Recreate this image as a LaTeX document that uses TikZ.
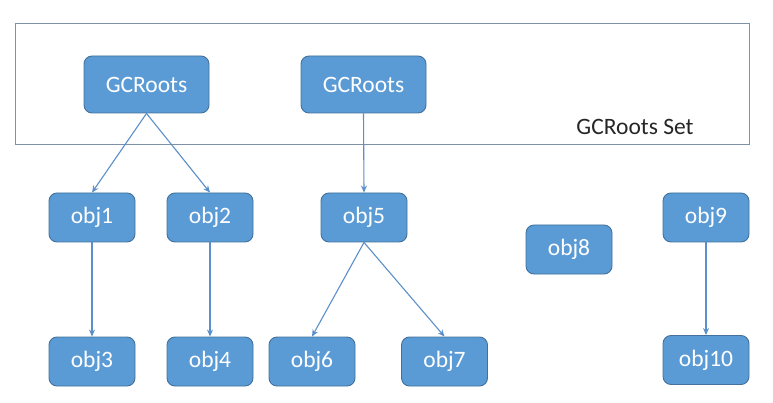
\documentclass[tikz,border=0pt]{standalone}
\usepackage{fontspec}
\setmainfont{Carlito}
\usetikzlibrary{arrows.meta}
\definecolor{boxfill}{HTML}{5B9BD5}
\definecolor{boxline}{HTML}{41719C}
\definecolor{setline}{HTML}{7F91A8}
\definecolor{arrowc}{HTML}{5B8FC9}
\tikzset{
  objbox/.style={draw=boxline, line width=0.9pt, fill=boxfill, rounded corners=8pt,
    minimum width=86pt, minimum height=49pt, inner sep=0pt, text=white,
    font=\fontsize{23.5}{28}\selectfont},
  rootbox/.style={objbox, minimum width=125pt, minimum height=57pt},
  link/.style={draw=arrowc, line width=1.1pt, -{Stealth[length=7pt,width=6pt]}}
}
\begin{document}
\begin{tikzpicture}[x=1pt,y=-1pt]
\useasboundingbox (0,0) rectangle (773,403);
\node[draw=setline, line width=1pt, minimum width=734pt, minimum height=121pt, inner sep=0pt] (set) at (382,84.5) {};
\node[font=\fontsize{23.5}{28}\selectfont, text=black!85, inner sep=0pt] (setlabel) at (635,127) {GCRoots Set};
\node[rootbox] (g1) at (146.5,84.5) {GCRoots};
\node[rootbox] (g2) at (363.5,84.5) {GCRoots};
\node[objbox] (o1) at (92,217.5) {obj1};
\node[objbox] (o2) at (210,217.5) {obj2};
\node[objbox] (o5) at (364,217.5) {obj5};
\node[objbox] (o8) at (569,249.5) {obj8};
\node[objbox] (o9) at (706,217.5) {obj9};
\node[objbox] (o3) at (92,361.5) {obj3};
\node[objbox] (o4) at (210,361.5) {obj4};
\node[objbox] (o6) at (312,361.5) {obj6};
\node[objbox] (o7) at (444.5,361.5) {obj7};
\node[objbox] (o10) at (706,360) {obj10};
\draw[link] (g1.south) -- (o1.north);
\draw[link] (g1.south) -- (o2.north);
\draw[link] (g2.south) -- (o5.north);
\draw[link] (o1.south) -- (o3.north);
\draw[link] (o2.south) -- (o4.north);
\draw[link] (o5.south) -- (o6.north);
\draw[link] (o5.south) -- (o7.north);
\draw[link] (o9.south) -- (o10.north);
\end{tikzpicture}
\end{document}
